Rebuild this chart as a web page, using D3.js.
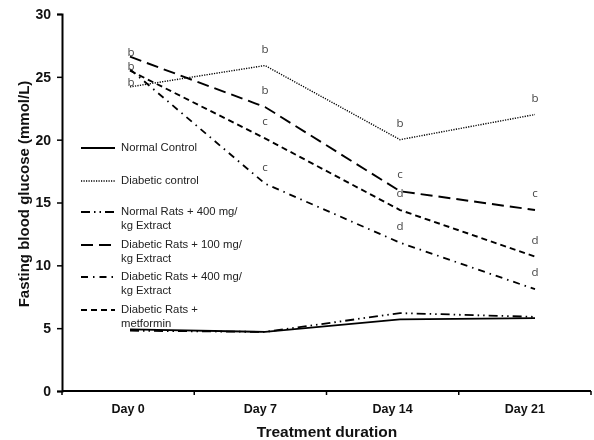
<!DOCTYPE html>
<html>
<head>
<meta charset="utf-8">
<script src="https://cdn.jsdelivr.net/npm/d3@7/dist/d3.min.js"></script>
<style>
  body { margin: 0; background: #fff; }
  svg { display: block; will-change: transform; }
</style>
</head>
<body>
<svg id="chart" width="594" height="440"></svg>
<script>
// ---- data ----
const categories = ["Day 0", "Day 7", "Day 14", "Day 21"];
const yTicks = [0, 5, 10, 15, 20, 25, 30];

const normalControl   = [4.9, 4.7, 5.7, 5.8];
const diabeticControl = [24.2, 25.9, 20.0, 22.0];
const normal400       = [4.8, 4.7, 6.2, 5.9];
const diabetic100     = [26.6, 22.6, 15.9, 14.4];
const diabetic400     = [25.6, 16.5, 11.8, 8.1];
const metformin       = [25.5, 20.1, 14.4, 10.7];

const lettersDiabeticControl = ["b", "b", "b", "b"];
const lettersDiabetic100     = ["b", "b", "c", "c"];
const lettersDiabetic400     = ["", "c", "d", "d"];
const lettersMetformin       = ["b", "c", "d", "d"];

const legendNames = [
  ["Normal Control"],
  ["Diabetic control"],
  ["Normal Rats + 400 mg/", "kg  Extract"],
  ["Diabetic Rats + 100 mg/", "kg Extract"],
  ["Diabetic Rats + 400 mg/", "kg Extract"],
  ["Diabetic Rats +", "metformin"]
];

// ---- styles ----
const styles = [
  { dash: null,            width: 1.8 },
  { dash: "1.2,1.3",       width: 1.4 },
  { dash: "9,4,1.5,4,1.5,4", width: 1.8 },
  { dash: "12,6",          width: 1.9 },
  { dash: "7,5,1.5,5",     width: 1.8 },
  { dash: "6,4",           width: 1.9 }
];

const seriesValues = [normalControl, diabeticControl, normal400, diabetic100, diabetic400, metformin];
const seriesLetters = [null, lettersDiabeticControl, null, lettersDiabetic100, lettersDiabetic400, lettersMetformin];

const svg = d3.select("#chart");
const fontAx = "'Liberation Sans', Arial, sans-serif";

const mLeft = 62, mRight = 591, mTop = 14, mBottom = 391;

const y = d3.scaleLinear().domain([0, 30]).range([mBottom, mTop]);
const xBand = d3.scaleBand().domain(categories).range([mLeft, mRight]);
const xPt = d3.scalePoint().domain(categories).range([130, 535]);

// x axis
svg.append("line").attr("x1", mLeft).attr("x2", mRight).attr("y1", mBottom).attr("y2", mBottom)
  .attr("stroke", "#000").attr("stroke-width", 2);
const boundaries = categories.map(c => xBand(c)).concat([xBand.range()[1]]);
svg.selectAll(".xb").data(boundaries).enter().append("line")
  .attr("x1", d => d).attr("x2", d => d).attr("y1", mBottom).attr("y2", mBottom + 4)
  .attr("stroke", "#000").attr("stroke-width", 1.5);
svg.selectAll(".xl").data(categories).enter().append("text")
  .attr("x", d => xBand(d) + xBand.bandwidth() / 2)
  .attr("y", 413)
  .attr("text-anchor", "middle")
  .attr("font-family", fontAx).attr("font-weight", "bold").attr("font-size", 12.5)
  .attr("fill", "#111")
  .text(d => d);

// y axis
const yAxis = svg.append("g")
  .attr("transform", `translate(${mLeft},0)`)
  .call(d3.axisLeft(y).tickValues(yTicks).tickSize(5).tickPadding(6));
yAxis.select(".domain").attr("stroke-width", 2);
yAxis.selectAll(".tick line").attr("stroke-width", 1.5);
yAxis.selectAll(".tick text")
  .attr("font-family", fontAx).attr("font-weight", "bold").attr("font-size", 14)
  .attr("fill", "#111");

// axis titles
svg.append("text")
  .attr("transform", "translate(29,194) rotate(-90)")
  .attr("text-anchor", "middle")
  .attr("font-family", fontAx).attr("font-weight", "bold").attr("font-size", 15)
  .attr("fill", "#111")
  .text("Fasting blood glucose (mmol/L)");
svg.append("text")
  .attr("x", 327).attr("y", 437)
  .attr("text-anchor", "middle")
  .attr("font-family", fontAx).attr("font-weight", "bold").attr("font-size", 15.5)
  .attr("fill", "#111")
  .text("Treatment duration");

// lines
const line = d3.line().x((d, i) => xPt(categories[i])).y(d => y(d));
seriesValues.forEach((vals, k) => {
  svg.append("path")
    .datum(vals)
    .attr("d", line)
    .attr("fill", "none")
    .attr("stroke", "#000")
    .attr("stroke-width", styles[k].width)
    .attr("stroke-dasharray", styles[k].dash);
});

// significance letters
seriesValues.forEach((vals, k) => {
  const letters = seriesLetters[k];
  if (!letters) return;
  vals.forEach((v, i) => {
    if (!letters[i]) return;
    svg.append("text")
      .attr("x", xPt(categories[i]) + (i === 0 ? 1 : 0))
      .attr("y", y(v) + (i === 0 ? -4 : -16))
      .attr("text-anchor", "middle")
      .attr("dominant-baseline", "middle")
      .attr("font-family", "'Open Sans', 'Noto Sans', sans-serif")
      .attr("font-size", 11.5)
      .attr("fill", "#444")
      .text(letters[i]);
  });
});

// legend
const legendY = [148, 181, 212, 245, 277, 310];
legendNames.forEach((lines, k) => {
  const ly = legendY[k];
  svg.append("line")
    .attr("x1", 81).attr("x2", 115).attr("y1", ly).attr("y2", ly)
    .attr("stroke", "#000")
    .attr("stroke-width", styles[k].width)
    .attr("stroke-dasharray", styles[k].dash);
  lines.forEach((t, j) => {
    svg.append("text")
      .attr("x", 121).attr("y", ly + j * 14)
      .attr("dominant-baseline", "middle")
      .attr("font-family", fontAx).attr("font-size", 11.3)
      .attr("fill", "#222")
      .text(t);
  });
});
</script>
</body>
</html>
